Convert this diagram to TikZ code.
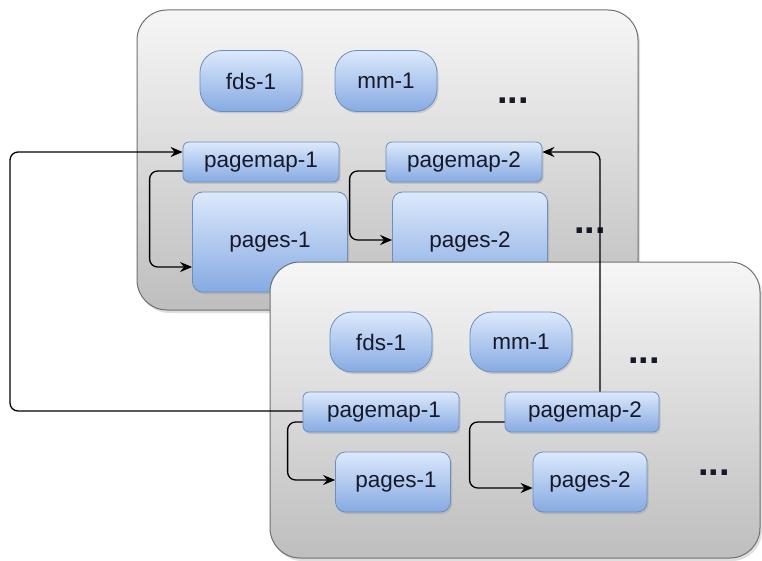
\documentclass[tikz,border=0pt]{standalone}
\usepackage{fontspec}
\setmainfont{Liberation Sans}
\usetikzlibrary{arrows.meta,shadows}
\definecolor{cbord}{HTML}{6F6F6F}
\definecolor{ctop}{HTML}{F6F6F6}
\definecolor{cbot}{HTML}{BEBEBE}
\definecolor{ntop}{HTML}{DCE9FC}
\definecolor{nbot}{HTML}{86AAE2}
\definecolor{nbord}{HTML}{6C8EBF}
\definecolor{ntext}{HTML}{16192A}
\tikzset{
  container/.style={draw=cbord, line width=1pt, top color=ctop, bottom color=cbot,
    rounded corners=30pt, inner sep=0pt,
    drop shadow={opacity=0.25, shadow xshift=2pt, shadow yshift=-3pt}},
  blue/.style={draw=nbord, line width=0.8pt, top color=ntop, bottom color=nbot,
    inner sep=0pt, text=ntext, font=\fontsize{22.5}{26}\selectfont,
    drop shadow={opacity=0.25, shadow xshift=1.5pt, shadow yshift=-2pt}},
  pill/.style={blue, rounded corners=22pt, minimum width=102pt, minimum height=61pt},
  pmap/.style={blue, rounded corners=6pt, minimum width=156pt, minimum height=40pt},
  pg/.style={blue, rounded corners=10pt},
  dots/.style={font=\bfseries\fontsize{38}{38}\selectfont, inner sep=0pt, text=ntext},
  conn/.style={draw=black, line width=1.3pt, rounded corners=8pt,
    -{Stealth[length=12pt,width=10pt]}}
}
\begin{document}
\begin{tikzpicture}[x=1pt,y=-1pt]
\useasboundingbox (0,0) rectangle (762,561);
% top container
\node[container, minimum width=501pt, minimum height=300pt] (c1) at (387.5,160) {};
\node[pill] (tfds) at (251,81) {fds-1};
\node[pill] (tmm) at (386,81) {mm-1};
\node[dots] (td1) at (513,101) {...};
\node[pmap] (tpm1) at (261,162) {pagemap-1};
\node[pmap] (tpm2) at (464,162) {pagemap-2};
\node[pg, minimum width=155pt, minimum height=100pt] (tpg1) at (270,242) {pages-1};
\node[pg, minimum width=155pt, minimum height=100pt] (tpg2) at (470,242) {pages-2};
\node[dots] (td2) at (590,231) {...};
\draw[conn] ([yshift=-9pt]tpm1.west) -- ++(-33pt,0) |- ([yshift=-25pt]tpg1.west);
\draw[conn] ([yshift=-9pt]tpm2.west) -- ++(-36pt,0) |- ([yshift=2pt]tpg2.west);
% bottom container
\node[container, minimum width=490pt, minimum height=296pt] (c2) at (515,410) {};
\node[pill, minimum height=60pt] (bfds) at (381,342) {fds-1};
\node[pill, minimum height=60pt] (bmm) at (521,342) {mm-1};
\node[dots] (bd1) at (644,361) {...};
\node[pmap] (bpm1) at (381,412) {\hspace{6pt}pagemap-1};
\node[pmap, minimum width=154pt] (bpm2) at (582,412) {\hspace{6pt}pagemap-2};
\node[pg, minimum width=115pt, minimum height=60pt] (bpg1) at (393,482) {\hspace{6pt}pages-1};
\node[pg, minimum width=114pt, minimum height=60pt] (bpg2) at (590,482) {pages-2};
\node[dots] (bd2) at (714,473) {...};
\draw[conn] ([yshift=-10pt]bpm1.west) -- ++(-15pt,0) |- ([yshift=2pt]bpg1.west);
\draw[conn] ([yshift=-10pt]bpm2.west) -- ++(-35pt,0) |- ([yshift=-6pt]bpg2.west);
% cross connectors
\coordinate (L) at (10,280);
\draw[conn] ([yshift=1pt]bpm1.west) -| (L) |- ([yshift=10pt]tpm1.west);
\draw[conn] ([xshift=18pt]bpm2.north) |- ([yshift=10pt]tpm2.east);
\end{tikzpicture}
\end{document}
